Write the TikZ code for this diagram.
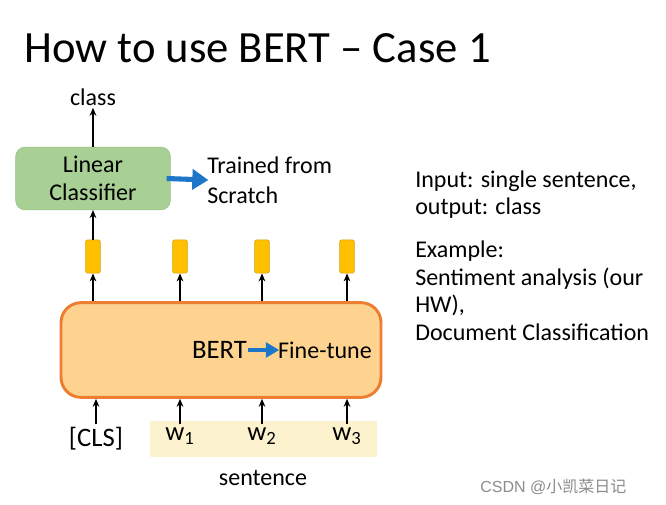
\documentclass[tikz,border=0pt]{standalone}
\usepackage{fontspec}
\setmainfont{Carlito}
\newfontfamily\wmfont{Liberation Sans}
\newfontfamily\cjk{Noto Sans CJK SC}
\usetikzlibrary{arrows.meta}

\definecolor{lingreen}{RGB}{168,207,148}
\definecolor{linedge}{RGB}{150,192,130}
\definecolor{bertfill}{RGB}{253,211,143}
\definecolor{bertedge}{RGB}{237,125,49}
\definecolor{vecfill}{RGB}{255,192,0}
\definecolor{vecedge}{RGB}{214,160,20}
\definecolor{sentfill}{RGB}{253,242,206}
\definecolor{bluearr}{RGB}{30,118,200}

\begin{document}
\begin{tikzpicture}[>=stealth, x=0.75pt, y=-0.75pt,
  font=\fontsize{18}{20.6}\selectfont,
  txt/.style={inner sep=0pt, align=left},
  tok/.style={txt, anchor=north, font=\fontsize{20}{24}\selectfont},
  vec/.style={draw=vecedge, fill=vecfill, rounded corners=1.5pt, minimum width=11pt, minimum height=25pt, inner sep=0pt},
  edge/.style={line width=1.1pt, -{Stealth[length=6pt, width=5pt]}},
  fat/.style={draw=bluearr, line width=3.8pt, -{Triangle[length=12pt, width=15pt]}, shorten >=-1pt}]
  \useasboundingbox (0,0) rectangle (666,505);
  \fill[white] (0,0) rectangle (666,505);
  % title
  \node[txt, anchor=base west, font=\fontsize{33.5}{40}\selectfont] (title) at (24,63) {How to use BERT \textendash\ Case 1};
  % classifier part
  \node[txt, anchor=base] (class) at (93,106) {class};
  \node[draw=linedge, fill=lingreen, rounded corners=7pt, align=center, minimum width=116pt, minimum height=47pt, inner sep=2pt, font=\fontsize{18}{21}\selectfont] (lin) at (93,178.5) {Linear\\Classifier};
  \node[txt, anchor=west, font=\fontsize{18}{22.5}\selectfont] (scratch) at (207,180) {Trained from\\Scratch};
  % BERT box
  \node[draw=bertedge, fill=bertfill, line width=2.2pt, rounded corners=15pt, minimum width=240pt, minimum height=71pt] (bert) at (221,350) {};
  \node[txt, font=\fontsize{20}{24}\selectfont] (bt) at (219.5,350) {BERT};
  \node[txt] (ft) at (325,350) {Fine-tune};
  % outputs of BERT
  \node[vec] (h0) at (93,256.5) {};
  \node[vec] (h1) at (180,256.5) {};
  \node[vec] (h2) at (262,256.5) {};
  \node[vec] (h3) at (347,256.5) {};
  % inputs
  \node[fill=sentfill, minimum width=170pt, minimum height=27pt, inner sep=0pt] (sent) at (263.5,439) {};
  \node[tok] (in0) at (96,427) {[CLS]};
  \node[tok] (in1) at (180,427) {w\textsubscript{1}};
  \node[tok] (in2) at (262,427) {w\textsubscript{2}};
  \node[tok] (in3) at (347,427) {w\textsubscript{3}};
  \node[txt, anchor=base] (sentlab) at (263,485) {sentence};
  % right hand text
  \node[txt, anchor=base west] (io) at (415,215) {Input: single sentence,\\output: class};
  \node[txt, anchor=base west] (ex) at (415,340) {Example:\\Sentiment analysis (our\\HW),\\Document Classification};
  % watermark
  \node[txt, anchor=west, text=black!45, font=\fontsize{12}{14}\selectfont] (wm) at (480,487) {{\wmfont CSDN @}{\cjk 小凯菜日记}};
  % connectors
  \draw[edge] (lin.north) -- ([yshift=-1pt]class.south);
  \draw[edge] (h0.north) -- (lin.south);
  \foreach \i in {0,...,3}
    \draw[edge] (bert.north -| h\i) -- (h\i.south);
  \draw[edge] ([yshift=2pt]in0.north) -- (in0.north |- bert.south);
  \foreach \i in {1,...,3}
    \draw[edge] ([yshift=2pt]in\i.north -| h\i) -- (h\i |- bert.south);
  \draw[fat] ([xshift=-3pt]lin.east) -- (scratch.west);
  \draw[fat, line width=3pt, -{Triangle[length=10pt, width=11pt]}] ([xshift=1pt]bt.east) -- (ft.west);
\end{tikzpicture}
\end{document}
